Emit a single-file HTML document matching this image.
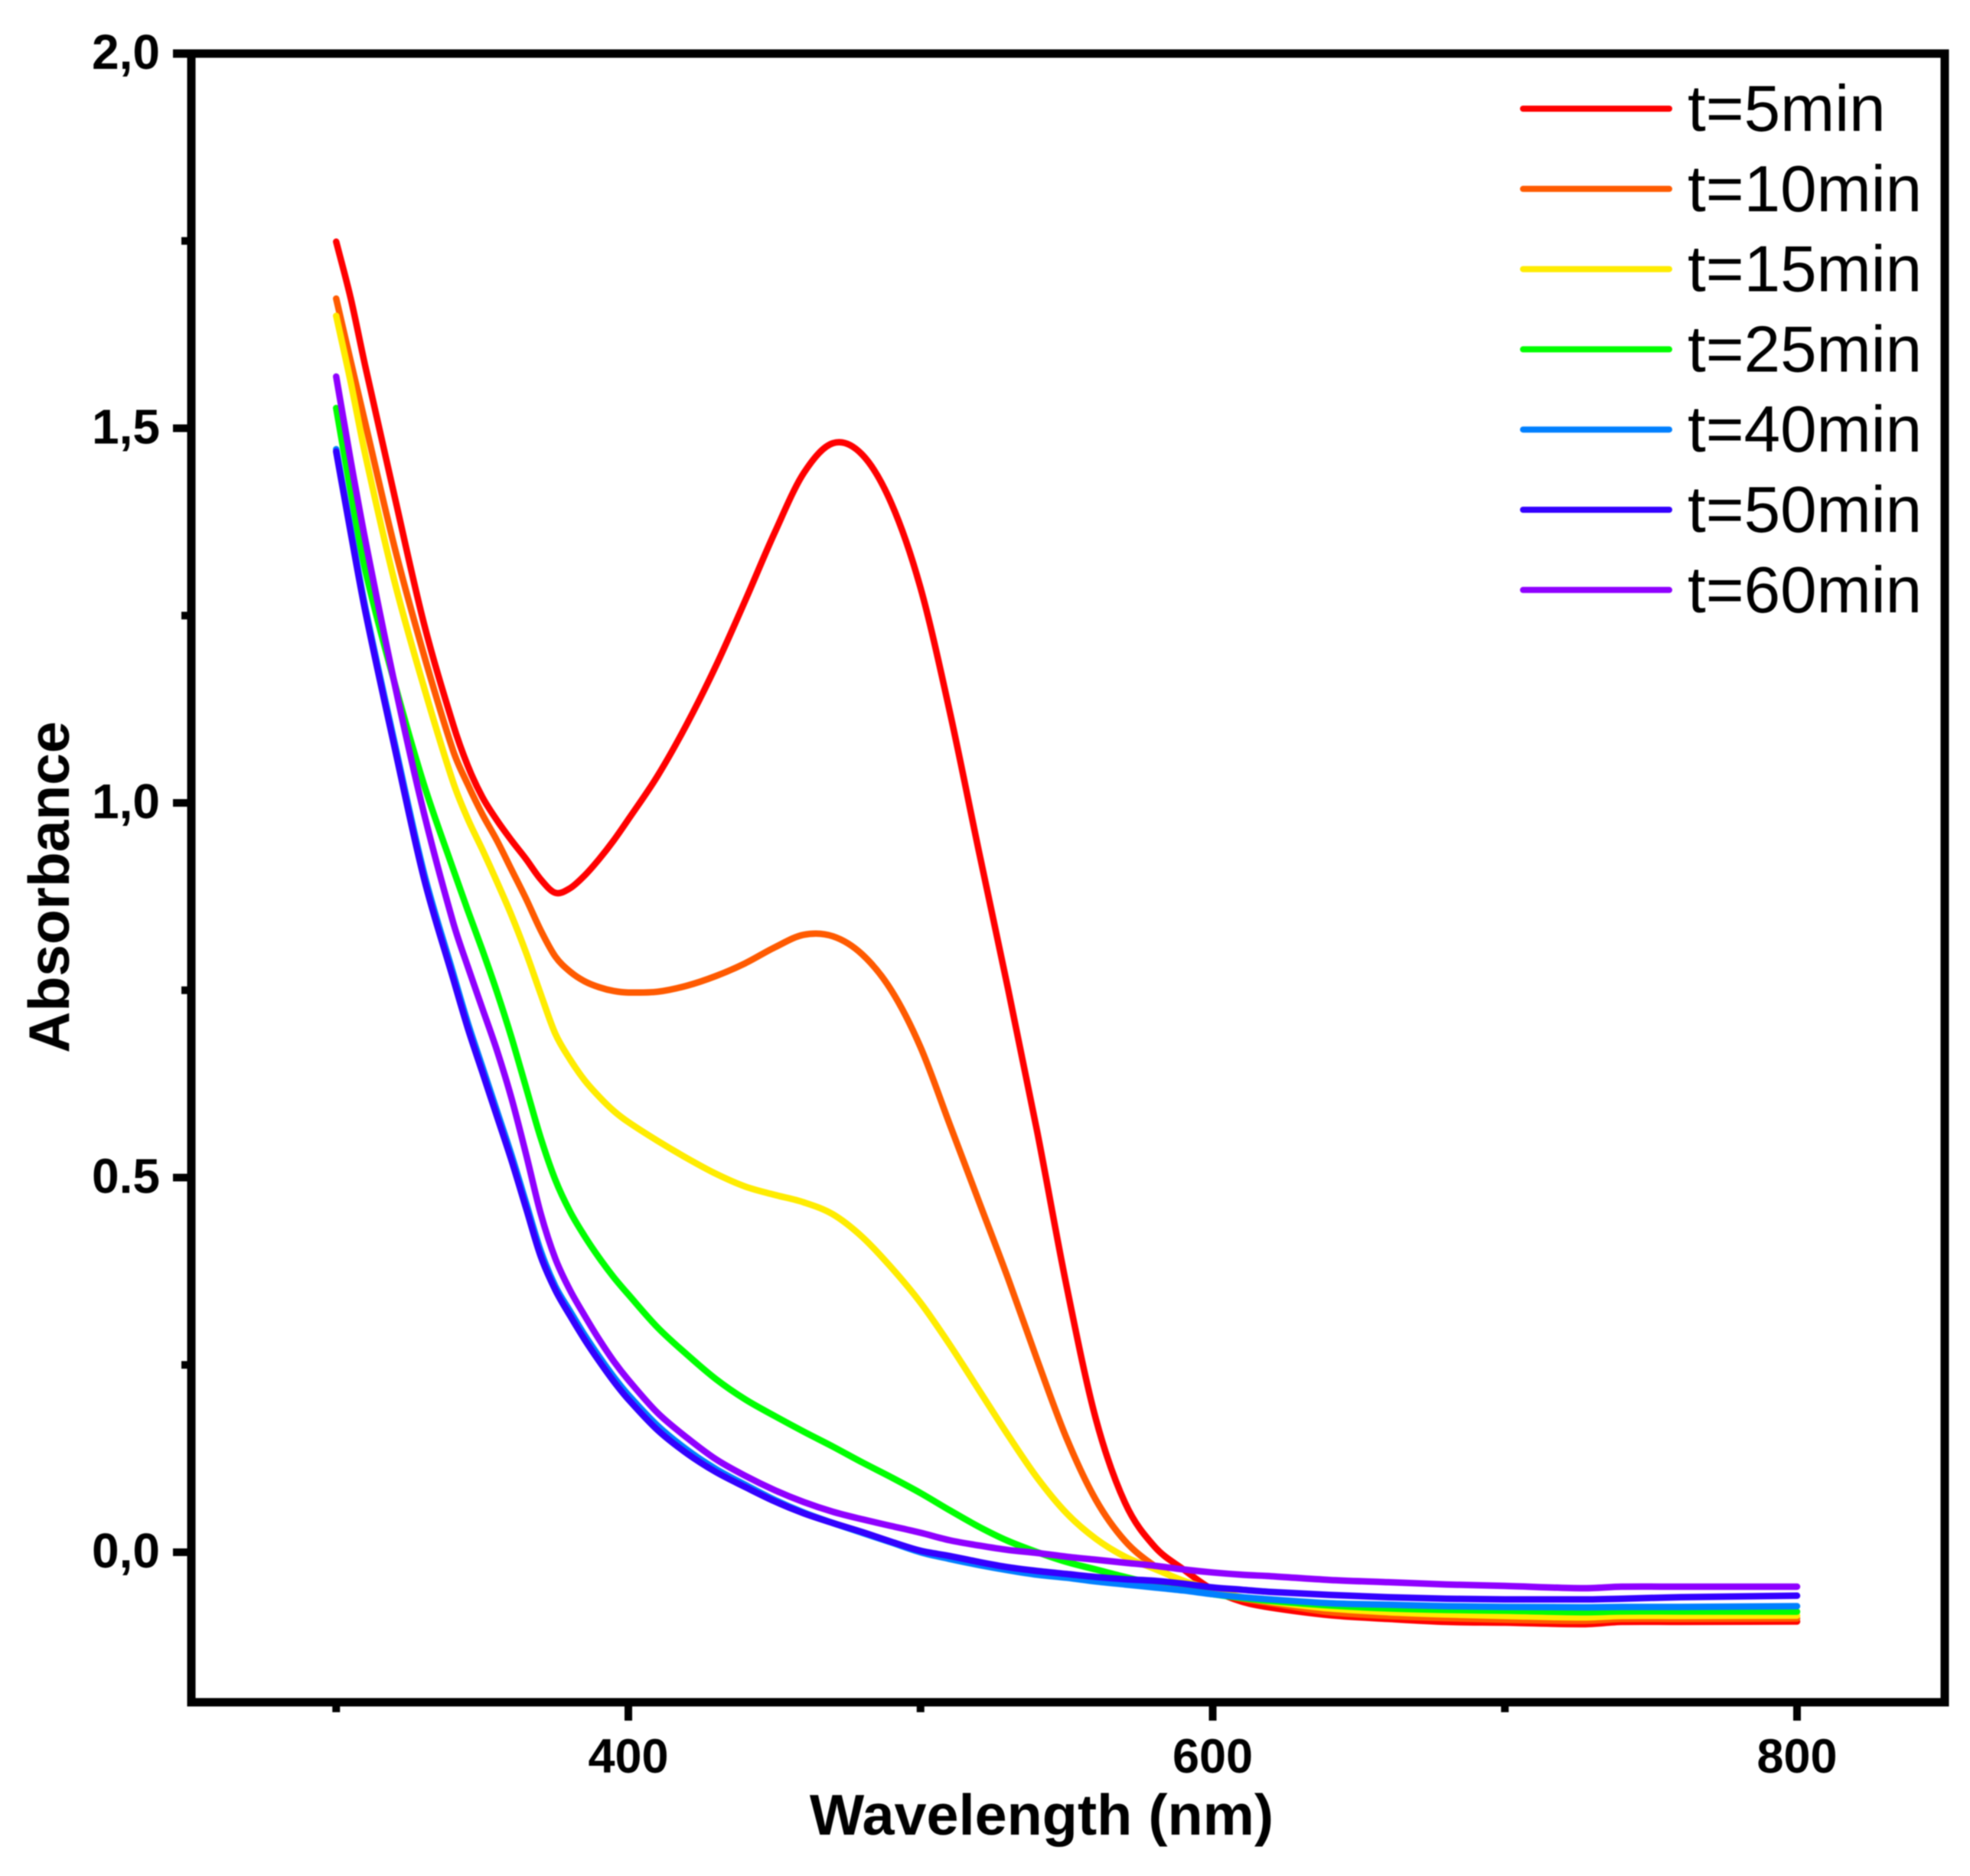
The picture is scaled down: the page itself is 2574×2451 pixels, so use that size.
<!DOCTYPE html>
<html lang="en">
<head>
<meta charset="utf-8">
<title>Absorbance vs Wavelength</title>
<style>
html,body{margin:0;padding:0;background:#fff;}
svg{display:block;filter:blur(0.9px);}
text{font-family:"Liberation Sans",Arial,sans-serif;fill:#000;}
</style>
</head>
<body>
<svg id="chart" xmlns="http://www.w3.org/2000/svg" width="2574" height="2451" viewBox="0 0 2574 2451">
  <rect x="0" y="0" width="2574" height="2451" fill="#ffffff"/>
  <g id="series-layer"></g>
  <rect x="250" y="70" width="2291" height="2154" fill="none" stroke="#000" stroke-width="11"/>
  <g id="tick-layer"></g>
  <g id="legend-layer"></g>
  <text x="1361" y="2397" font-size="75.6" font-weight="700" text-anchor="middle">Wavelength (nm)</text>
  <text x="90" y="1159" font-size="75" font-weight="700" text-anchor="middle" transform="rotate(-90 90 1159)">Absorbance</text>
</svg>
<script>
const wavelengths = [300,305,310,320,330,340,345,350,355,360,365,370,375,380,385,390,395,400,
  410,420,430,440,450,460,470,480,490,500,
  510,520,530,540,550,560,570,580,590,600,
  610,620,640,660,680,700,727,740,760,800];

const t5 = [1.749,1.673,1.582,1.409,1.24,1.105,1.05,1.008,.977,.95,.925,.898,.88,.886,.903,.925,.95,.978,
  1.036,1.105,1.183,1.27,1.36,1.44,1.48,1.465,1.4,1.287,
  1.122,.935,.751,.56,.355,.178,.066,.008,-.023,-.05,
  -.066,-.074,-.084,-.089,-.093,-.094,-.096,-.093,-.093,-.0925];

const t10 = [1.673,1.589,1.506,1.341,1.198,1.07,1.025,.985,.95,.911,.872,.83,.795,.775,.762,.754,.749,.747,
  .748,.756,.769,.786,.807,.824,.822,.798,.75,.674,
  .571,.468,.365,.256,.152,.07,.015,-.018,-.04,-.054,
  -.062,-.068,-.08,-.085,-.088,-.09,-.0915,-.089,-.089,-.0885];

const t15 = [1.65,1.561,1.464,1.295,1.155,1.028,.979,.938,.895,.85,.80,.745,.692,.658,.63,.608,.589,.574,
  .549,.526,.505,.488,.477,.467,.451,.421,.38,.333,
  .277,.2165,.156,.099,.052,.018,-.006,-.022,-.038,-.05,
  -.06,-.066,-.075,-.08,-.083,-.085,-.087,-.085,-.085,-.0846];

const t25 = [1.527,1.415,1.31,1.16,1.025,.912,.857,.804,.748,.687,.62,.553,.497,.455,.422,.393,.367,.344,
  .30,.264,.231,.204,.182,.161,.141,.12,.10,.079,
  .056,.034,.015,0,-.013,-.023,-.033,-.042,-.049,-.056,
  -.061,-.065,-.071,-.075,-.077,-.078,-.08,-.079,-.079,-.0793];

const t40 = [1.472,1.365,1.26,1.08,.907,.773,.707,.648,.589,.53,.466,.402,.355,.322,.29,.261,.234,.21,
  .169,.137,.111,.09,.07,.053,.039,.026,.013,0,
  -.009,-.017,-.024,-.03,-.034,-.039,-.043,-.047,-.051,-.056,
  -.06,-.063,-.068,-.07,-.072,-.073,-.0735,-.073,-.073,-.072];

const t50 = [1.469,1.36,1.255,1.074,.90,.766,.70,.641,.582,.523,.459,.395,.35,.316,.284,.255,.228,.204,
  .163,.132,.107,.087,.068,.052,.039,.027,.014,.002,
  -.005,-.013,-.02,-.025,-.029,-.033,-.036,-.038,-.042,-.047,
  -.05,-.053,-.057,-.06,-.062,-.063,-.063,-.062,-.06,-.058];

const t60 = [1.569,1.456,1.35,1.159,.987,.841,.782,.726,.67,.606,.531,.452,.392,.35,.316,.284,.255,.23,
  .186,.153,.124,.102,.083,.067,.054,.044,.035,.026,
  .016,.009,.003,-.001,-.006,-.01,-.014,-.018,-.023,-.027,
  -.03,-.032,-.037,-.04,-.043,-.045,-.048,-.046,-.046,-.046];

const seriesValues = [t5,t10,t15,t25,t40,t50,t60];
const seriesLabels = ["t=5min","t=10min","t=15min","t=25min","t=40min","t=50min","t=60min"];
const seriesSlugs = ["t-5min","t-10min","t-15min","t-25min","t-40min","t-50min","t-60min"];
const seriesColors = ["#ff0000","#ff5a00","#ffec00","#00ff00","#0080ff","#3300ff","#8f00ff"];

const xMajorTicks = [400,600,800];
const xMinorTicks = [300,500,700];
const xTickLabels = ["400","600","800"];
const yMajorTicks = [0,0.5,1,1.5,2];
const yMinorTicks = [0.25,0.75,1.25,1.75];
const yTickLabels = ["0,0","0.5","1,0","1,5","2,0"];

const NS = "http://www.w3.org/2000/svg";
function xScale(w){ return 821 + (w - 400) * 3.8175; }
function yScale(a){ return 2028 - a * 979; }

function smoothPath(xs, ys){
  const pts = xs.map((w,i)=>[xScale(w), yScale(ys[i])]);
  let d = "M" + pts[0][0].toFixed(2) + " " + pts[0][1].toFixed(2);
  for(let i=0;i<pts.length-1;i++){
    const p0 = pts[Math.max(i-1,0)], p1 = pts[i], p2 = pts[i+1], p3 = pts[Math.min(i+2,pts.length-1)];
    const seg = p2[0]-p1[0];
    const s1 = seg/(p2[0]-p0[0]), s2 = seg/(p3[0]-p1[0]);
    const c1x = p1[0]+(p2[0]-p0[0])*s1/3, c1y = p1[1]+(p2[1]-p0[1])*s1/3;
    const c2x = p2[0]-(p3[0]-p1[0])*s2/3, c2y = p2[1]-(p3[1]-p1[1])*s2/3;
    d += "C"+c1x.toFixed(2)+" "+c1y.toFixed(2)+" "+c2x.toFixed(2)+" "+c2y.toFixed(2)+" "+p2[0].toFixed(2)+" "+p2[1].toFixed(2);
  }
  return d;
}

const seriesLayer = document.getElementById("series-layer");
const tickLayer = document.getElementById("tick-layer");
const legendLayer = document.getElementById("legend-layer");

seriesValues.forEach((vals, i)=>{
  const p = document.createElementNS(NS,"path");
  p.setAttribute("d", smoothPath(wavelengths, vals));
  p.setAttribute("fill","none");
  p.setAttribute("stroke",seriesColors[i]);
  p.setAttribute("stroke-width","8.5");
  p.setAttribute("stroke-linecap","round");
  p.setAttribute("stroke-linejoin","round");
  
  
  seriesLayer.appendChild(p);
});

function addLine(x1,y1,x2,y2,w,name){
  const l = document.createElementNS(NS,"line");
  l.setAttribute("x1",x1); l.setAttribute("y1",y1);
  l.setAttribute("x2",x2); l.setAttribute("y2",y2);
  l.setAttribute("stroke","#000"); l.setAttribute("stroke-width",w);
  
  
  tickLayer.appendChild(l);
}
function addText(x,y,str,anchor,size,weight,name,parent){
  const t = document.createElementNS(NS,"text");
  t.setAttribute("x",x); t.setAttribute("y",y);
  t.setAttribute("text-anchor",anchor);
  t.setAttribute("font-size",size);
  t.setAttribute("font-weight",weight);
  t.textContent = str;
  
  
  parent.appendChild(t);
}

xMajorTicks.forEach((w,i)=>{
  addLine(xScale(w),2224,xScale(w),2248,10,"x-major-tick-"+w);
  addText(xScale(w),2316,xTickLabels[i],"middle",63,700,"x-tick-label-"+w,tickLayer);
});
xMinorTicks.forEach(w=>{
  addLine(xScale(w),2224,xScale(w),2237,10,"x-minor-tick-"+w);
});
yMajorTicks.forEach((a,i)=>{
  addLine(226,yScale(a),250,yScale(a),a===2?11:10,"y-major-tick-"+a);
  addText(209,yScale(a)+20,yTickLabels[i],"end",64,700,"y-tick-label-"+a,tickLayer);
});
yMinorTicks.forEach(a=>{
  addLine(237,yScale(a),250,yScale(a),10,"y-minor-tick-"+a);
});

seriesLabels.forEach((label,i)=>{
  const yy = 142 + i * 104.8;
  const l = document.createElementNS(NS,"line");
  l.setAttribute("x1",1990); l.setAttribute("y1",yy);
  l.setAttribute("x2",2181); l.setAttribute("y2",yy);
  l.setAttribute("stroke",seriesColors[i]);
  l.setAttribute("stroke-width","8");
  l.setAttribute("stroke-linecap","round");
  
  
  legendLayer.appendChild(l);
  addText(2205,yy+29,label,"start",85.4,400,"legend-label-"+seriesSlugs[i],legendLayer);
});
</script>
</body>
</html>
